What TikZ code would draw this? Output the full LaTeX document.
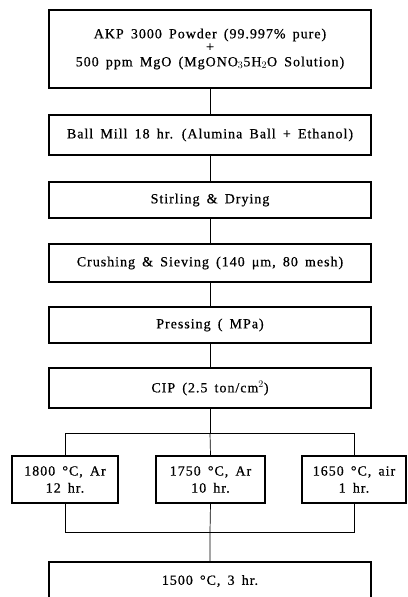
\documentclass[tikz,border=0pt]{standalone}
\usepackage{fontspec}
\setmainfont{Liberation Serif}[LetterSpace=7,WordSpace=1.6,FakeBold=0.6]
\begin{document}
\begin{tikzpicture}[x=1pt,y=-1pt,
  box/.style={draw, line width=1.1pt, inner sep=0pt, align=center,
    font=\fontsize{14}{17}\selectfont},
  conn/.style={line width=0.7pt}]
\useasboundingbox (0,0) rectangle (407,597);
\node[box, minimum width=322pt, minimum height=78pt] (b1) at (210,49)
  {AKP 3000 Powder (99.997\% pure)\\[-4pt]+\\[-2pt]500 ppm MgO (MgONO$_3$5H$_2$O Solution)};
\node[box, minimum width=322pt, minimum height=40pt] (b2) at (210,135)
  {Ball Mill 18 hr. (Alumina Ball + Ethanol)};
\node[box, minimum width=322pt, minimum height=36pt] (b3) at (210,200)
  {Stirling \& Drying};
\node[box, minimum width=322pt, minimum height=38pt] (b4) at (210,263)
  {Crushing \& Sieving (140 μm, 80 mesh)};
\node[box, minimum width=322pt, minimum height=36pt] (b5) at (210,325)
  {Pressing ( MPa)};
\node[box, minimum width=322pt, minimum height=40pt] (b6) at (210,388)
  {CIP (2.5 ton/cm$^2$)};
\node[box, minimum width=106pt, minimum height=47pt] (l) at (65,479.5)
  {1800 °C, Ar\\12 hr.};
\node[box, minimum width=109pt, minimum height=47pt] (m) at (210.5,479.5)
  {1750 °C, Ar\\10 hr.};
\node[box, minimum width=104pt, minimum height=47pt] (r) at (354,479.5)
  {1650 °C, air\\1 hr.};
\node[box, minimum width=322pt, minimum height=38pt] (b7) at (210,581)
  {1500 °C, 3 hr.};
\coordinate (j1) at (210,433);
\coordinate (j2) at (210,532);
\draw[conn] (b1) -- (b2);
\draw[conn] (b2) -- (b3);
\draw[conn] (b3) -- (b4);
\draw[conn] (b4) -- (b5);
\draw[conn] (b5) -- (b6);
\draw[conn] (b6) -- (j1);
\draw[conn] (l.north |- j1) -- (r.north |- j1);
\draw[conn] (l.north |- j1) -- (l.north);
\draw[conn] (j1) -- (m.north);
\draw[conn] (r.north |- j1) -- (r.north);
\draw[conn] (l.south) -- (l.south |- j2) -- (r.south |- j2) -- (r.south);
\draw[conn] (m.south) -- (j2) -- (b7);
\end{tikzpicture}
\end{document}
